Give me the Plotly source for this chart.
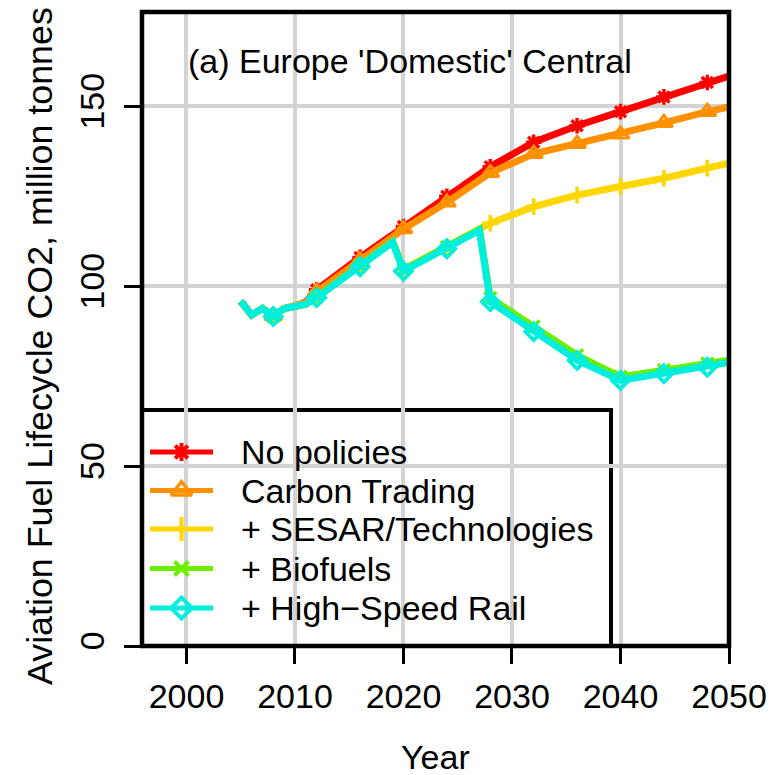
import plotly.graph_objects as go

# ---------------------------------------------------------------- data
years = [2005, 2006, 2007, 2008, 2009, 2010, 2011, 2012, 2016, 2019, 2020,
         2024, 2027, 2028, 2032, 2036, 2040, 2044, 2048, 2050]

no_policies = [95.8, 92.0, 93.8, 91.8, 93.8, 94.4, 95.6, 99.0, 108.0, 114.3, 116.6,
               125.0, 131.3, 133.2, 140.0, 144.6, 148.5, 152.6, 156.6, 158.4]
carbon_trading = [95.8, 92.0, 93.8, 91.8, 93.8, 94.4, 95.4, 98.5, 107.2, 113.4, 115.9,
                  123.3, 129.6, 131.5, 136.8, 139.6, 142.2, 145.4, 148.5, 149.8]
sesar_tech = [95.8, 92.0, 93.8, 91.6, 93.8, 94.2, 95.0, 97.0, 105.6, 112.4, 104.6,
              110.9, 115.8, 117.5, 122.1, 125.3, 127.7, 130.0, 132.8, 134.2]
biofuels = [95.8, 92.0, 93.8, 91.6, 93.8, 94.2, 95.0, 97.0, 105.6, 112.4, 104.6,
            110.9, 115.8, 96.7, 88.8, 80.8, 74.8, 76.7, 78.5, 79.4]
high_speed_rail = [95.8, 92.0, 93.8, 91.6, 93.8, 94.2, 95.0, 96.8, 105.4, 112.2, 104.2,
                   110.4, 115.5, 95.7, 87.4, 79.4, 73.8, 75.7, 77.5, 78.8]

marker_years = [2008, 2012, 2016, 2020, 2024, 2028, 2032, 2036, 2040, 2044, 2048]

series_names = ["No policies", "Carbon Trading", "+ SESAR/Technologies",
                "+ Biofuels", "+ High\u2212Speed Rail"]
series_values = [no_policies, carbon_trading, sesar_tech, biofuels, high_speed_rail]

x_ticks = [2000, 2010, 2020, 2030, 2040, 2050]
y_ticks = [0, 50, 100, 150]

title_text = "(a) Europe 'Domestic' Central"
x_title = "Year"
y_title = "Aviation Fuel Lifecycle CO2, million tonnes"

# ---------------------------------------------------------------- styles
colors = ["#FF0000", "#FF9000", "#FFD700", "#6CEE00", "#00EEDD"]
symbols = ["asterisk-open", "triangle-up-open", "cross-thin-open",
           "x-thin-open", "diamond-open"]
marker_sizes = [13, 15, 12, 12, 13]
marker_widths = [3.5, 3.0, 3.5, 3.5, 3.8]
legend_marker_sizes = [15, 18, 17, 14, 16]
legend_marker_widths = [4, 3.5, 4, 4, 4]

FONT = "Liberation Sans, Arial, Helvetica, sans-serif"
W, H = 769, 775
L, R, T, B = 142, 729, 12, 646          # plot area in pixels

def px_to_fx(px):
    return (px - L) / (R - L)

def py_to_fy(py):
    return (B - py) / (B - T)

fig = go.Figure()

# ---------------------------------------------------------------- series
for name, vals, col, sym, ms, mw in zip(series_names, series_values, colors,
                                        symbols, marker_sizes, marker_widths):
    fig.add_trace(go.Scatter(
        x=years, y=vals, mode="lines", name=name, showlegend=False,
        line=dict(color=col, width=7), hoverinfo="skip"))
    mx = [yr for yr in years if yr in marker_years]
    my = [v for yr, v in zip(years, vals) if yr in marker_years]
    fig.add_trace(go.Scatter(
        x=mx, y=my, mode="markers", showlegend=False,
        marker=dict(symbol=sym, size=ms, color=col,
                    line=dict(color=col, width=mw)),
        hoverinfo="skip"))

# ---------------------------------------------------------------- legend (drawn by hand, R style)
leg_rows_py = [452, 490.5, 529, 568.5, 608]
for i, (name, col, sym, ms, mw) in enumerate(zip(series_names, colors, symbols,
                                                 legend_marker_sizes,
                                                 legend_marker_widths)):
    fy = py_to_fy(leg_rows_py[i])
    fig.add_trace(go.Scatter(
        x=[px_to_fx(150), px_to_fx(213)], y=[fy, fy], mode="lines",
        xaxis="x2", yaxis="y2", showlegend=False, hoverinfo="skip",
        line=dict(color=col, width=5)))
    fig.add_trace(go.Scatter(
        x=[px_to_fx(181.5)], y=[fy], mode="markers",
        xaxis="x2", yaxis="y2", showlegend=False, hoverinfo="skip",
        marker=dict(symbol=sym, size=ms, color=col,
                    line=dict(color=col, width=mw))))
    fig.add_annotation(
        x=px_to_fx(239), y=fy, xref="paper", yref="paper",
        text=name, showarrow=False, xanchor="left", yanchor="middle",
        font=dict(family=FONT, size=34, color="black"))

shapes = [
    # legend box, covering the grid but under the data
    dict(type="rect", xref="paper", yref="paper",
         x0=0, x1=px_to_fx(611), y0=0, y1=py_to_fy(410),
         fillcolor="white", line=dict(color="black", width=4), layer="between"),
    # plot frame
    dict(type="rect", xref="paper", yref="paper", x0=0, x1=1, y0=0, y1=1,
         line=dict(color="black", width=4.5), layer="above"),
]

annotations = list(fig.layout.annotations) + [
    dict(x=px_to_fx(186), y=py_to_fy(61), xref="paper", yref="paper",
         text=title_text, showarrow=False, xanchor="left", yanchor="middle",
         font=dict(family=FONT, size=34, color="black")),
    dict(x=px_to_fx(436), y=py_to_fy(757), xref="paper", yref="paper",
         text=x_title, showarrow=False, xanchor="center", yanchor="middle",
         font=dict(family=FONT, size=34, color="black")),
    dict(x=px_to_fx(40), y=py_to_fy(346), xref="paper", yref="paper",
         text=y_title, showarrow=False, xanchor="center", yanchor="middle",
         textangle=-90, font=dict(family=FONT, size=35.8, color="black")),
]

axis_common = dict(
    showgrid=True, gridcolor="#D3D3D3", gridwidth=3.5, zeroline=False,
    showline=False, ticks="outside", ticklen=17, tickwidth=2.5,
    tickcolor="black", tickfont=dict(family=FONT, size=34, color="black"),
    automargin=False, fixedrange=True)

fig.update_layout(
    width=W, height=H,
    margin=dict(l=L, r=W - R, t=T, b=H - B, pad=0),
    paper_bgcolor="white", plot_bgcolor="white",
    showlegend=False,
    xaxis=dict(range=[1995.9, 2050], tickmode="array", tickvals=x_ticks,
               ticktext=[str(v) for v in x_ticks], ticklabelstandoff=3,
               **axis_common),
    yaxis=dict(range=[0, 176.2], tickmode="array", tickvals=y_ticks,
               ticktext=[str(v) for v in y_ticks], tickangle=-90,
               ticklabelstandoff=6, **axis_common),
    xaxis2=dict(overlaying="x", range=[0, 1], visible=False, fixedrange=True),
    yaxis2=dict(overlaying="y", range=[0, 1], visible=False, fixedrange=True),
    shapes=shapes,
    annotations=annotations,
)

fig.write_html("out.html")
